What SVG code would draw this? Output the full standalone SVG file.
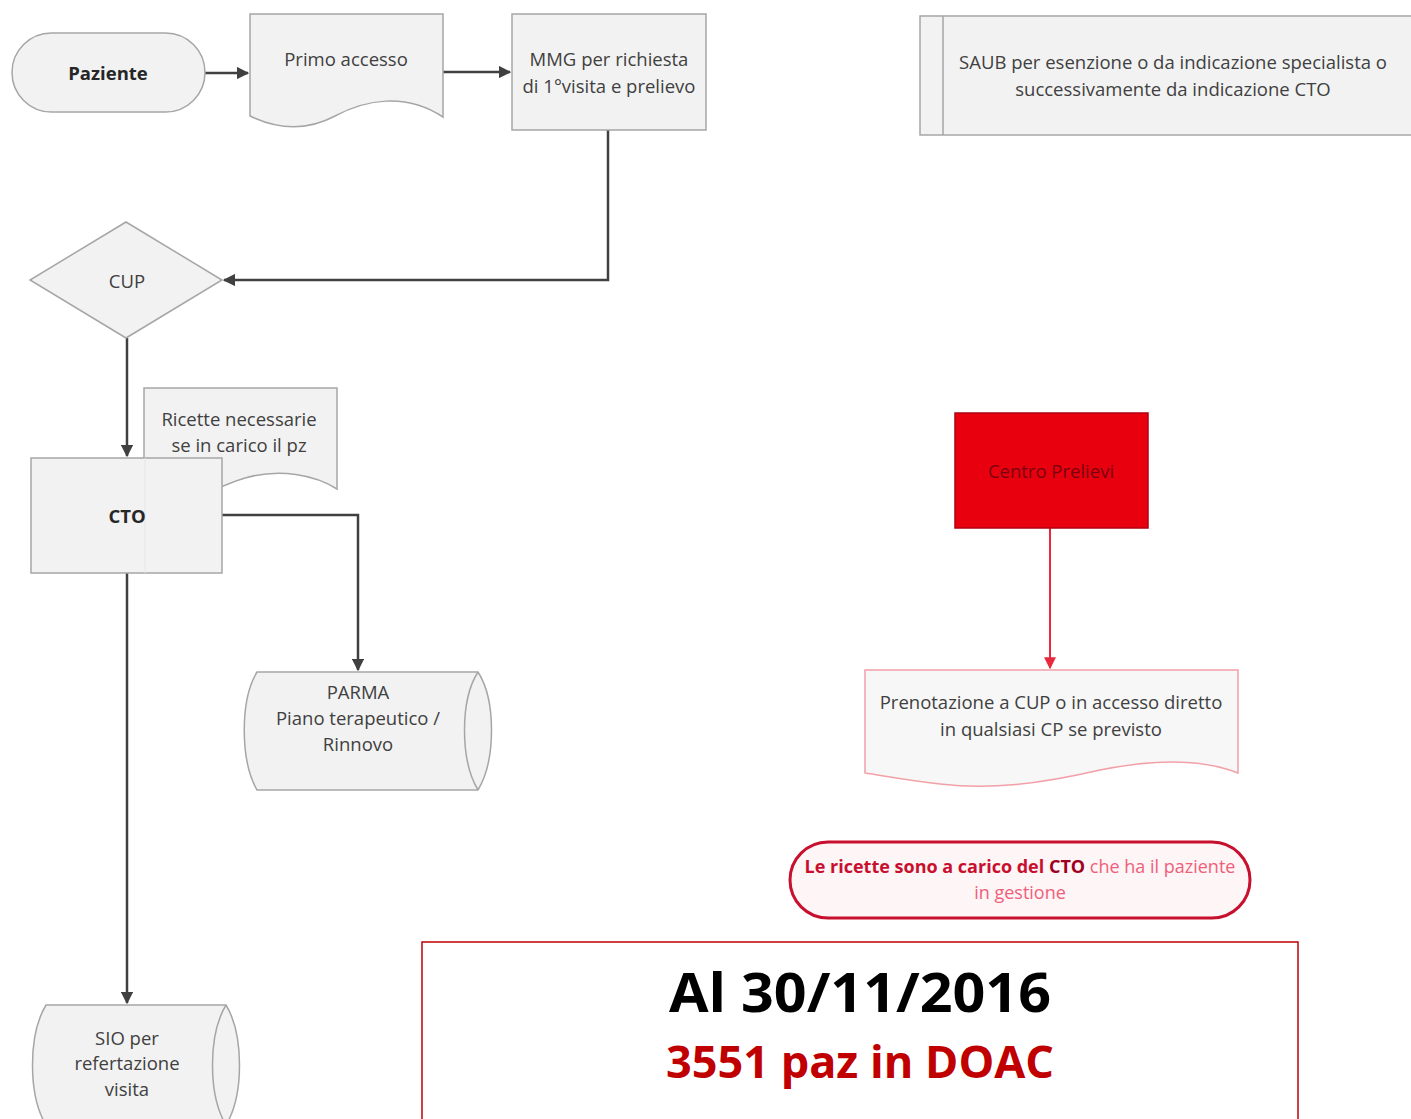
<svg xmlns="http://www.w3.org/2000/svg" width="1411" height="1119" viewBox="0 0 1411 1119">
<defs>
<marker id="ah" viewBox="0 0 10 10" refX="9" refY="5" markerWidth="5" markerHeight="5" orient="auto" markerUnits="strokeWidth"><path d="M0,0 L10,5 L0,10 z" fill="#404040"/></marker>
<marker id="ahr" viewBox="0 0 10 10" refX="9" refY="5" markerWidth="6" markerHeight="6" orient="auto" markerUnits="strokeWidth"><path d="M0,0 L10,5 L0,10 z" fill="#e8283c"/></marker>
</defs>
<style>
.shp{fill:#f2f2f2;stroke:#a6a6a6;stroke-width:1.5}
.t{font-family:"Open Sans","Liberation Sans",sans-serif;font-size:18.5px;fill:#404040;text-anchor:middle}
.b{font-weight:bold;fill:#262626}
.con{fill:none;stroke:#404040;stroke-width:2.5}
</style>
<rect width="1411" height="1119" fill="#ffffff"/>

<g id="connectors">
<path class="con" d="M205,73 H248" marker-end="url(#ah)"/>
<path class="con" d="M443,72 H510" marker-end="url(#ah)"/>
<path class="con" d="M608,130 V280 H224" marker-end="url(#ah)"/>
<path class="con" d="M127,338 V456" marker-end="url(#ah)"/>
<path class="con" d="M222,515 H358 V670" marker-end="url(#ah)"/>
<path class="con" d="M127,573 V1003" marker-end="url(#ah)"/>
<path d="M1050,528 V668" fill="none" stroke="#e8283c" stroke-width="2" marker-end="url(#ahr)"/>
</g>

<g id="paziente">
<rect class="shp" x="12" y="33" width="193" height="79" rx="39.5"/>
<text class="t b" x="108" y="80">Paziente</text>
</g>

<g id="primo-accesso">
<path class="shp" d="M250,14 H443 V117 C405,92 365,100 335,116 C305,132 275,128 250,116 Z"/>
<text class="t" x="346" y="66">Primo accesso</text>
</g>

<g id="mmg">
<rect class="shp" x="512" y="14" width="194" height="116"/>
<text class="t" x="609" y="66">MMG per richiesta</text>
<text class="t" x="609" y="93">di 1°visita e prelievo</text>
</g>

<g id="saub">
<rect class="shp" x="920" y="16" width="495" height="119"/>
<line x1="943" y1="16" x2="943" y2="135" stroke="#a6a6a6" stroke-width="1.5"/>
<text class="t" x="1173" y="69">SAUB per esenzione o da indicazione specialista o</text>
<text class="t" x="1173" y="96">successivamente da indicazione CTO</text>
</g>

<g id="cup">
<path class="shp" d="M126,222 L222,280 L126,338 L30,280 Z"/>
<text class="t" x="127" y="288">CUP</text>
</g>

<g id="ricette">
<path class="shp" d="M144,388 H337 V489 C315,475 280,468 245,478 C225,484 210,492 200,497 L144,497 Z"/>
<text class="t" x="239" y="426">Ricette necessarie</text>
<text class="t" x="239" y="452">se in carico il pz</text>
</g>

<g id="cto">
<rect class="shp" x="31" y="458" width="191" height="115"/>
<line x1="145" y1="458" x2="145" y2="573" stroke="#e6e6e6" stroke-width="1"/>
<text class="t b" x="127" y="523">CTO</text>
</g>

<g id="parma">
<path class="shp" d="M257,672 H478 C496,700 496,760 478,790 H257 C240,760 240,700 257,672 Z"/>
<path d="M478,672 C460,700 460,760 478,790" fill="none" stroke="#a6a6a6" stroke-width="1.5"/>
<text class="t" x="358" y="699">PARMA</text>
<text class="t" x="358" y="725">Piano terapeutico /</text>
<text class="t" x="358" y="751">Rinnovo</text>
</g>

<g id="sio">
<path class="shp" d="M46,1005 H226 C244,1035 244,1095 226,1125 H46 C28,1095 28,1035 46,1005 Z"/>
<path d="M226,1005 C208,1035 208,1095 226,1125" fill="none" stroke="#a6a6a6" stroke-width="1.5"/>
<text class="t" x="127" y="1045">SIO per</text>
<text class="t" x="127" y="1070">refertazione</text>
<text class="t" x="127" y="1096">visita</text>
</g>

<g id="centro-prelievi">
<rect x="955" y="413" width="193" height="115" fill="#e8000e" stroke="#b00010" stroke-width="1.5"/>
<text class="t" x="1051" y="478" style="fill:#7a0010">Centro Prelievi</text>
</g>

<g id="prenotazione">
<path d="M865,670 H1238 V773 C1200,758 1150,760 1100,770 C1040,784 990,790 940,784 C905,780 880,775 865,773 Z" fill="#f7f7f7" stroke="#f2a0a8" stroke-width="1.5"/>
<text class="t" x="1051" y="709">Prenotazione a CUP o in accesso diretto</text>
<text class="t" x="1051" y="736">in qualsiasi CP se previsto</text>
</g>

<g id="nota-ricette">
<rect x="790" y="842" width="460" height="76" rx="38" fill="#fdf5f6" stroke="#c8102e" stroke-width="3"/>
<text class="t" x="1020" y="873" style="font-size:18px"><tspan font-weight="bold" style="fill:#c8102e">Le ricette sono a carico del </tspan><tspan font-weight="bold" style="fill:#a00020">CTO</tspan><tspan style="fill:#f0607a"> che ha il paziente</tspan></text>
<text class="t" x="1020" y="899" style="fill:#f0607a;font-size:18px">in gestione</text>
</g>

<g id="riepilogo">
<rect x="422" y="942" width="876" height="190" fill="#ffffff" stroke="#c00000" stroke-width="1.5"/>
<text x="860" y="1012" font-family="'Open Sans','Liberation Sans',sans-serif" font-size="54" font-weight="bold" fill="#000000" text-anchor="middle" textLength="382" lengthAdjust="spacingAndGlyphs">Al 30/11/2016</text>
<text x="860" y="1078" font-family="'Open Sans','Liberation Sans',sans-serif" font-size="44" font-weight="bold" fill="#c00000" text-anchor="middle" textLength="388" lengthAdjust="spacingAndGlyphs">3551 paz in DOAC</text>
</g>
</svg>
